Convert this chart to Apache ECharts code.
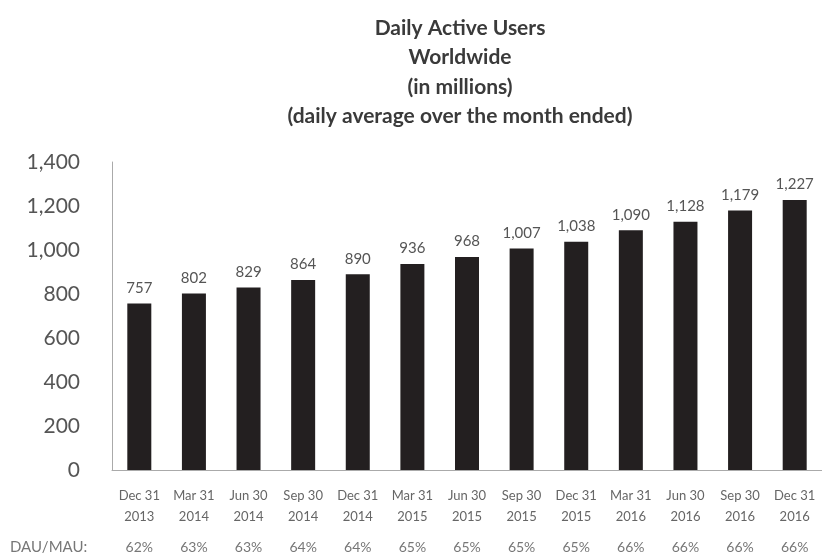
<!DOCTYPE html>
<html>
<head>
<meta charset="utf-8">
<script src="https://cdn.jsdelivr.net/npm/echarts@6/dist/echarts.min.js"></script>
<style>html,body{margin:0;padding:0;background:#fff;}#c{width:822px;height:558px;}</style>
</head>
<body>
<div id="c"></div>
<script>
const titleLines = ['Daily Active Users', 'Worldwide', '(in millions)', '(daily average over the month ended)'];
const categories = ['Dec 31\n2013','Mar 31\n2014','Jun 30\n2014','Sep 30\n2014','Dec 31\n2014','Mar 31\n2015','Jun 30\n2015','Sep 30\n2015','Dec 31\n2015','Mar 31\n2016','Jun 30\n2016','Sep 30\n2016','Dec 31\n2016'];
const dau = [757, 802, 829, 864, 890, 936, 968, 1007, 1038, 1090, 1128, 1179, 1227];
const dauMau = ['62%','63%','63%','64%','64%','65%','65%','65%','65%','66%','66%','66%','66%'];
const dauMauLabel = 'DAU/MAU:';
const yTicks = {min: 0, max: 1400, interval: 200};

const FONT = 'Lato, "Open Sans", sans-serif';
const chart = echarts.init(document.getElementById('c'));
const fmt = v => v.toLocaleString('en-US');
chart.setOption({
  animation: false,
  backgroundColor: '#fff',
  title: {
    text: titleLines.join('\n'),
    left: 455, top: 8, textAlign: 'center',
    textStyle: {fontFamily: FONT, fontSize: 21, fontWeight: 'bold', color: '#3a3a3a', lineHeight: 29.5}
  },
  graphic: [{
    type: 'text', left: 10, top: 540,
    style: {text: dauMauLabel, font: '15px ' + FONT, fill: '#777'}
  }],
  grid: {left: 112, right: -3, top: 162, bottom: 88, containLabel: false},
  xAxis: [{
    type: 'category', data: categories, position: 'bottom',
    axisLine: {show: true, lineStyle: {color: '#aaa', width: 1}},
    axisTick: {show: false},
    axisLabel: {interval: 0, fontFamily: FONT, fontSize: 13, color: '#666', lineHeight: 21, margin: 15}
  }, {
    type: 'category', data: dauMau, position: 'bottom', offset: 0,
    axisLine: {show: false}, axisTick: {show: false},
    axisLabel: {interval: 0, fontFamily: FONT, fontSize: 14, color: '#777', margin: 70}
  }],
  yAxis: {
    type: 'value', min: yTicks.min, max: yTicks.max, interval: yTicks.interval,
    axisLine: {show: true, lineStyle: {color: '#aaa', width: 1}},
    axisTick: {show: false},
    splitLine: {show: false},
    axisLabel: {fontFamily: FONT, fontSize: 21, color: '#555', margin: 32, formatter: v => fmt(v)}
  },
  series: [{
    type: 'bar', data: dau, barWidth: 24, xAxisIndex: 0,
    itemStyle: {color: '#231f20'},
    label: {show: true, position: 'top', distance: 8, fontFamily: FONT, fontSize: 15, color: '#555', formatter: p => fmt(p.value)}
  }]
});
</script>
</body>
</html>
